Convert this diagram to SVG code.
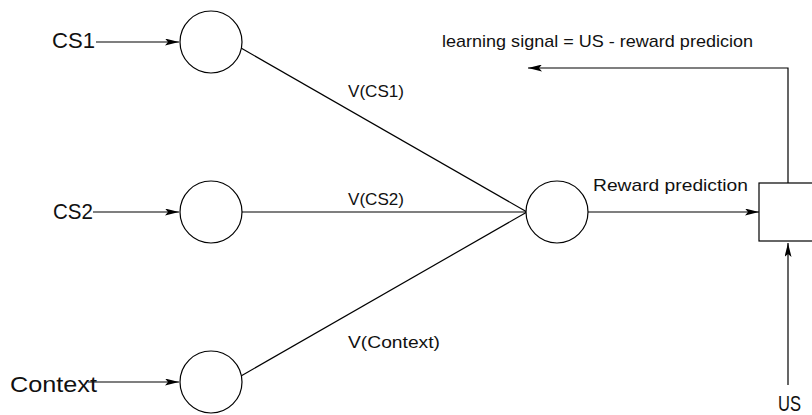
<svg xmlns="http://www.w3.org/2000/svg" width="812" height="415" viewBox="0 0 812 415">
  <style>
    .node { fill: #fff; stroke: #000; stroke-width: 1.2; }
    .edge { fill: none; stroke: #000; stroke-width: 1.2; }
    .big { font-family: "Liberation Sans", Arial, sans-serif; font-size: 22px; fill: #111; }
    .small { font-family: "Liberation Sans", Arial, sans-serif; font-size: 17px; fill: #111; }
  </style>
  <defs>
    <marker id="arrow" viewBox="0 0 14 7" refX="14" refY="3.5" markerWidth="14" markerHeight="7" markerUnits="userSpaceOnUse" orient="auto">
      <path d="M0,0 L14,3.5 L0,7 L3,3.5 Z" fill="#000"/>
    </marker>
  </defs>
  <rect width="812" height="415" fill="#fff"/>

  <g id="connectors">
    <line class="edge" x1="96" y1="42" x2="179" y2="42" marker-end="url(#arrow)"/>
    <line class="edge" x1="93" y1="212" x2="179" y2="212" marker-end="url(#arrow)"/>
    <line class="edge" x1="88" y1="382" x2="179" y2="382" marker-end="url(#arrow)"/>
    <line class="edge" x1="241" y1="48" x2="527" y2="212"/>
    <line class="edge" x1="242" y1="212" x2="527" y2="212"/>
    <line class="edge" x1="241" y1="376" x2="527" y2="212"/>
    <line class="edge" x1="588" y1="212" x2="759" y2="212" marker-end="url(#arrow)"/>
    <polyline class="edge" points="788,183 788,68 528,68" marker-end="url(#arrow)"/>
    <line class="edge" x1="788" y1="385" x2="788" y2="243" marker-end="url(#arrow)"/>
    <text class="small" x="348" y="97" textLength="56" lengthAdjust="spacingAndGlyphs">V(CS1)</text>
    <text class="small" x="348" y="205" textLength="56" lengthAdjust="spacingAndGlyphs">V(CS2)</text>
    <text class="small" x="348" y="348" textLength="92" lengthAdjust="spacingAndGlyphs">V(Context)</text>
    <text class="small" x="593" y="191" textLength="155" lengthAdjust="spacingAndGlyphs">Reward prediction</text>
    <text class="small" x="442" y="47" textLength="311" lengthAdjust="spacingAndGlyphs">learning signal = US - reward predicion</text>
  </g>

  <g id="cs1">
    <text class="big" x="52" y="48" textLength="43" lengthAdjust="spacingAndGlyphs">CS1</text>
    <circle class="node" cx="211" cy="42" r="31"/>
  </g>
  <g id="cs2">
    <text class="big" x="53" y="219" textLength="40" lengthAdjust="spacingAndGlyphs">CS2</text>
    <circle class="node" cx="211" cy="212" r="31"/>
  </g>
  <g id="context">
    <text class="big" x="10" y="392" textLength="87" lengthAdjust="spacingAndGlyphs">Context</text>
    <circle class="node" cx="211" cy="382" r="31"/>
  </g>
  <g id="prediction">
    <circle class="node" cx="557" cy="212" r="31"/>
  </g>
  <g id="comparator">
    <rect class="node" x="759" y="183" width="60" height="58"/>
  </g>
  <g id="us">
    <text class="big" x="778" y="411" textLength="23" lengthAdjust="spacingAndGlyphs">US</text>
  </g>
</svg>
